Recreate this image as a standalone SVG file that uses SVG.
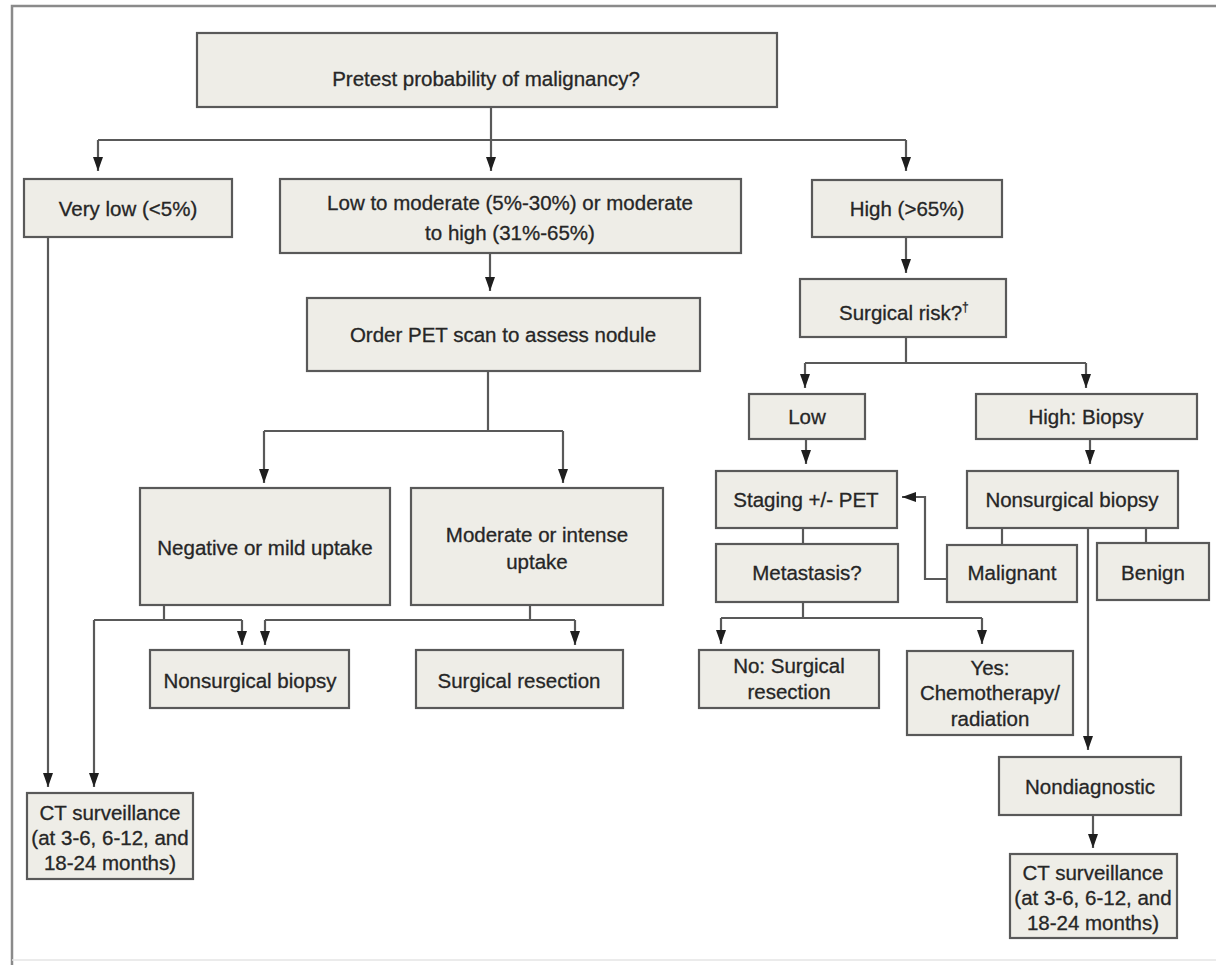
<svg xmlns="http://www.w3.org/2000/svg" width="1216" height="965" viewBox="0 0 1216 965">
<defs>
<style>
.box{fill:#eeede7;stroke:#595959;stroke-width:2.2}
.t{font-family:"Liberation Sans",Arial,sans-serif;font-size:20.5px;fill:#262626;stroke:#262626;stroke-width:0.3;text-anchor:middle}
.ln{fill:none;stroke:#595959;stroke-width:2.2}
.ar{fill:none;stroke:#595959;stroke-width:2.2;marker-end:url(#ah)}
</style>
<marker id="ah" markerUnits="userSpaceOnUse" viewBox="0 0 14 10" refX="14" refY="5" markerWidth="14" markerHeight="10" orient="auto">
<path d="M0,0 L14,5 L0,10 z" fill="#1e1e1e"/>
</marker>
</defs>
<rect width="1216" height="965" fill="#ffffff"/>
<g id="frame">
<path d="M12,965 V6 H1216" fill="none" stroke="#8a8a8a" stroke-width="2.5"/>
<path d="M12,960 H1216" fill="none" stroke="#e4e4e4" stroke-width="1.5"/>
</g>
<g id="connectors">
<path class="ln" d="M98,140 H906"/>
<path class="ar" d="M491,107 V171"/>
<path class="ar" d="M98,140 V171"/>
<path class="ar" d="M906,140 V171"/>
<path class="ar" d="M48,237 V787"/>
<path class="ar" d="M490,253 V291"/>
<path class="ln" d="M488,371 V431 M264,431 H563"/>
<path class="ar" d="M264,431 V483"/>
<path class="ar" d="M563,431 V483"/>
<path class="ln" d="M164,605 V620 M94,620 H242"/>
<path class="ar" d="M242,620 V645"/>
<path class="ar" d="M94,620 V787"/>
<path class="ln" d="M530,605 V620 M265,620 H575"/>
<path class="ar" d="M265,620 V645"/>
<path class="ar" d="M575,620 V645"/>
<path class="ar" d="M906,237 V273"/>
<path class="ln" d="M906,337 V363 M805,363 H1086"/>
<path class="ar" d="M805,363 V388"/>
<path class="ar" d="M1086,363 V388"/>
<path class="ar" d="M806,439 V464"/>
<path class="ar" d="M1090,439 V464"/>
<path class="ln" d="M803,528 V544"/>
<path class="ln" d="M1002,528 V545 M1146,528 V543"/>
<path class="ar" d="M1088,528 V750"/>
<path class="ar" d="M947,579 H925 V497 H902"/>
<path class="ln" d="M803,602 V618 M721,618 H982"/>
<path class="ar" d="M721,618 V644"/>
<path class="ar" d="M982,618 V644"/>
<path class="ar" d="M1093,815 V848"/>
</g>
<g id="n-pretest"><rect class="box" x="197" y="33" width="580" height="74"/><text class="t" x="486" y="86">Pretest probability of malignancy?</text></g>
<g id="n-verylow"><rect class="box" x="24" y="179" width="208" height="58"/><text class="t" x="128" y="216">Very low (&lt;5%)</text></g>
<g id="n-lowmod"><rect class="box" x="280" y="179" width="461" height="74"/><text class="t" x="510" y="210">Low to moderate (5%-30%) or moderate</text><text class="t" x="510" y="240">to high (31%-65%)</text></g>
<g id="n-high"><rect class="box" x="812" y="180" width="190" height="57"/><text class="t" x="907" y="216">High (&gt;65%)</text></g>
<g id="n-orderpet"><rect class="box" x="307" y="298" width="393" height="73"/><text class="t" x="503" y="342">Order PET scan to assess nodule</text></g>
<g id="n-negative"><rect class="box" x="140" y="488" width="250" height="117"/><text class="t" x="265" y="555">Negative or mild uptake</text></g>
<g id="n-moderate"><rect class="box" x="411" y="488" width="252" height="117"/><text class="t" x="537" y="542">Moderate or intense</text><text class="t" x="537" y="569">uptake</text></g>
<g id="n-nsb-left"><rect class="box" x="150" y="650" width="199" height="58"/><text class="t" x="250" y="688">Nonsurgical biopsy</text></g>
<g id="n-surgres"><rect class="box" x="416" y="650" width="207" height="58"/><text class="t" x="519" y="688">Surgical resection</text></g>
<g id="n-ct-left"><rect class="box" x="27" y="793" width="166" height="86"/><text class="t" x="110" y="820">CT surveillance</text><text class="t" x="110" y="845">(at 3-6, 6-12, and</text><text class="t" x="110" y="870">18-24 months)</text></g>
<g id="n-surgrisk"><rect class="box" x="800" y="279" width="206" height="58"/><text class="t" x="839" y="320" style="text-anchor:start">Surgical risk?<tspan font-size="12" dy="-9">†</tspan></text></g>
<g id="n-low"><rect class="box" x="749" y="394" width="116" height="45"/><text class="t" x="807" y="424">Low</text></g>
<g id="n-highbiopsy"><rect class="box" x="976" y="394" width="221" height="45"/><text class="t" x="1086" y="424">High: Biopsy</text></g>
<g id="n-staging"><rect class="box" x="716" y="471" width="181" height="57"/><text class="t" x="806" y="507">Staging +/- PET</text></g>
<g id="n-nsb-right"><rect class="box" x="967" y="471" width="211" height="57"/><text class="t" x="1072" y="507">Nonsurgical biopsy</text></g>
<g id="n-metastasis"><rect class="box" x="716" y="544" width="182" height="58"/><text class="t" x="807" y="580">Metastasis?</text></g>
<g id="n-malignant"><rect class="box" x="947" y="545" width="130" height="57"/><text class="t" x="1012" y="580">Malignant</text></g>
<g id="n-benign"><rect class="box" x="1097" y="543" width="112" height="57"/><text class="t" x="1153" y="580">Benign</text></g>
<g id="n-nosurg"><rect class="box" x="699" y="650" width="180" height="58"/><text class="t" x="789" y="673">No: Surgical</text><text class="t" x="789" y="699">resection</text></g>
<g id="n-yes"><rect class="box" x="907" y="651" width="166" height="84"/><text class="t" x="990" y="675">Yes:</text><text class="t" x="990" y="700">Chemotherapy/</text><text class="t" x="990" y="726">radiation</text></g>
<g id="n-nondiag"><rect class="box" x="999" y="757" width="182" height="58"/><text class="t" x="1090" y="794">Nondiagnostic</text></g>
<g id="n-ct-right"><rect class="box" x="1010" y="854" width="167" height="84"/><text class="t" x="1093" y="880">CT surveillance</text><text class="t" x="1093" y="905">(at 3-6, 6-12, and</text><text class="t" x="1093" y="930">18-24 months)</text></g>
</svg>
